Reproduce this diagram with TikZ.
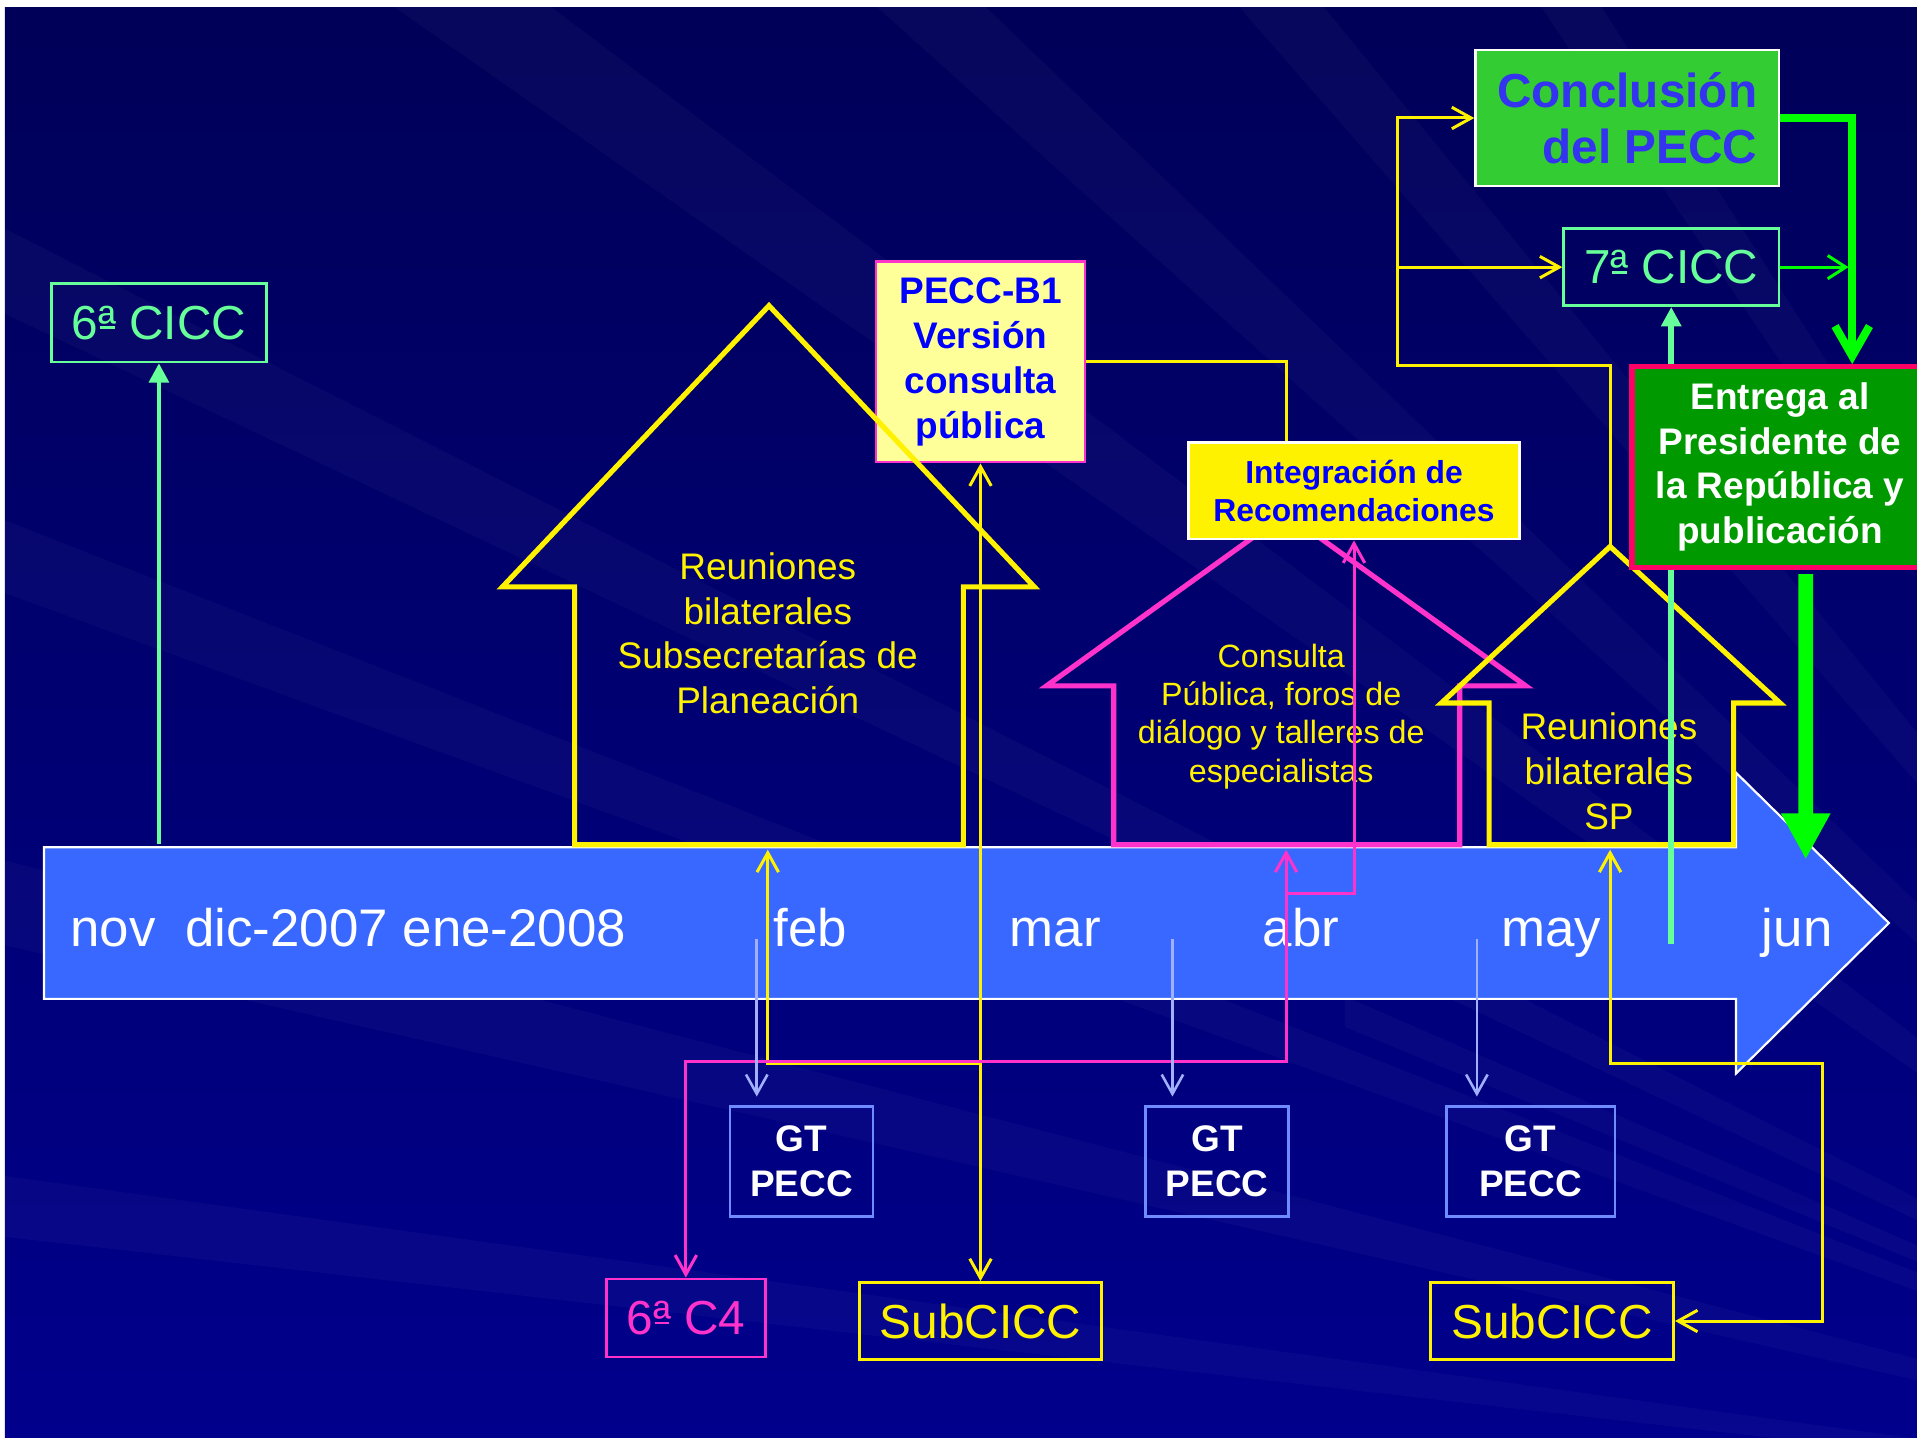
\documentclass[tikz,border=0pt]{standalone}
\usepackage{fontspec}
\setmainfont{Liberation Sans}
\usetikzlibrary{arrows.meta,calc}

\definecolor{bgtop}{RGB}{0,0,88}
\definecolor{bgbot}{RGB}{0,0,140}
\definecolor{tlblue}{RGB}{56,104,255}
\definecolor{lgreen}{RGB}{102,255,153}
\definecolor{pinkc}{RGB}{255,51,204}
\definecolor{lyellow}{RGB}{255,255,153}
\definecolor{cgreen}{RGB}{51,204,51}
\definecolor{dgreen}{RGB}{0,153,0}
\definecolor{crimson}{RGB}{255,0,102}
\definecolor{gtblue}{RGB}{110,140,255}
\definecolor{arblue}{RGB}{160,176,255}
\definecolor{txtblue}{RGB}{0,0,255}
\definecolor{ccblue}{RGB}{51,51,240}
\definecolor{bright}{RGB}{0,255,0}

% underlined ordinal a
\newcommand\ordbar{\makebox[0pt][l]{\hspace{0.03em}\rule[0.21em]{0.31em}{0.06em}}ª}

\tikzset{
  box/.style={draw, line width=0.6pt, inner sep=0pt, align=center},
  bigtxt/.style={font=\fontsize{11.1}{13.3}\selectfont},
  midtxt/.style={font=\fontsize{8.6}{10.4}\selectfont},
  midbold/.style={font=\fontsize{8.6}{10.4}\selectfont\bfseries},
  smalltxt/.style={font=\fontsize{7.5}{8.9}\selectfont},
  smallbold/.style={font=\fontsize{7.4}{8.8}\selectfont\bfseries},
  monthtxt/.style={font=\fontsize{12.3}{14}\selectfont, text=white, inner sep=0pt},
  house/.style={line width=1.2pt, line join=miter},
  ylink/.style={yellow, line width=0.7pt},
  plink/.style={pinkc, line width=0.7pt},
  lgarrow/.style={lgreen, line width=1.1pt, -{Triangle[length=4.5pt,width=4.5pt]}},
  gtarrow/.style={arblue, line width=0.6pt, shorten >=2pt, ->},
  gthin/.style={bright, line width=0.7pt, -{Straight Barb[length=4.2pt,width=5.4pt]}},
  gthick/.style={bright, line width=1.85pt, -{Straight Barb[length=7pt,width=8pt]}},
  gbig/.style={bright, line width=3.4pt, -{Triangle[length=10.7pt,width=10.7pt]}},
  streak/.style={fill=white, opacity=0.028}
}

\begin{document}
\begin{tikzpicture}[x=0.01cm, y=-0.01cm, >={Straight Barb[length=4.5pt,width=5pt]}]
  \useasboundingbox (0,0) rectangle (1568,1178);
  % background
  \fill[white] (0,0) rectangle (1568,1178);
  \shade[top color=bgtop, bottom color=bgbot] (4,6) rectangle (1568,1176);
  \begin{scope}
    \clip (4,6) rectangle (1568,1176);
    \fill[streak] (2100,1250) -- (-10,180) -- (-10,250) -- cycle;
    \fill[streak] (2100,1250) -- (-10,420) -- (-10,480) -- cycle;
    \fill[streak] (2100,1250) -- (-10,700) -- (-10,770) -- cycle;
    \fill[streak] (2100,1250) -- (-10,960) -- (-10,1010) -- cycle;
    \fill[streak] (2100,1250) -- (300,-10) -- (430,-10) -- cycle;
    \fill[streak] (2100,1250) -- (700,-10) -- (790,-10) -- cycle;
    \fill[streak] (2100,1250) -- (1000,-10) -- (1070,-10) -- cycle;
    \fill[streak] (2100,1250) -- (1250,-10) -- (1300,-10) -- cycle;
    \fill[streak] (2100,1250) -- (1100,815) -- (1100,840) -- cycle;
  \end{scope}
  % timeline
  \draw[white, line width=0.5pt, fill=tlblue] (36,693) -- (1420,693) -- (1420,632) -- (1545,755)
    -- (1420,878) -- (1420,817) -- (36,817) -- cycle;
  \node (m0) [monthtxt, anchor=base west] at (57,774) {nov\ \ dic-2007 ene-2008};
  \node (feb) [monthtxt, anchor=base] at (663,774) {feb};
  \node (mar) [monthtxt, anchor=base] at (863,774) {mar};
  \node (abr) [monthtxt, anchor=base] at (1064,774) {abr};
  \node (may) [monthtxt, anchor=base] at (1269,774) {may};
  \node (jun) [monthtxt, anchor=base] at (1470,774) {jun};
  % houses
  \node (pecc) [box, draw=pinkc, fill=lyellow, text=txtblue, midbold, minimum width=1.71cm, minimum height=1.64cm] at (802,296) {PECC-B1\\Versión\\consulta\\pública};
  \draw[house, yellow] (470,691) -- (470,480) -- (411,480) -- (629,250) -- (846,480) -- (788,480) -- (788,691) -- cycle;
  \node (reu1) [text=yellow, midtxt, align=center] at (628,518) {Reuniones\\bilaterales\\Subsecretarías de\\Planeación};
  \draw[house, pinkc] (911,691) -- (911,561) -- (856,561) -- (1052,420) -- (1248,561) -- (1194,561) -- (1194,691) -- cycle;
  \node (cons) [text=yellow, smalltxt, align=center] at (1048,586) {Consulta\\Pública, foros de\\diálogo y talleres de\\especialistas};
  \node (integ) [box, draw=white, fill=yellow, text=txtblue, smallbold, minimum width=2.71cm, minimum height=0.79cm] at (1107.5,401.5) {Integración de\\Recomendaciones};
  \draw[house, yellow] (1218,691) -- (1218,575) -- (1179,575) -- (1317,447) -- (1456,575) -- (1418,575) -- (1418,691) -- cycle;
  \node (reu2) [text=yellow, midtxt, align=center] at (1316,631) {Reuniones\\bilaterales\\SP};
  % nodes
  \node (cicc6) [box, draw=lgreen, text=lgreen, bigtxt, minimum width=1.76cm, minimum height=0.64cm] at (130,264) {6\ordbar{} CICC};
  \node (concl) [box, draw=white, fill=cgreen, text=ccblue, align=right, font=\fontsize{11.1}{13.1}\selectfont\bfseries, minimum width=2.48cm, minimum height=1.11cm] at (1331,96.5) {Conclusión\\del PECC};
  \node (cicc7) [box, draw=lgreen, text=lgreen, bigtxt, minimum width=1.76cm, minimum height=0.63cm] at (1367,218.5) {7\ordbar{} CICC};
  \node (gt1) [box, draw=gtblue, text=white, midbold, minimum width=1.17cm, minimum height=0.90cm] at (655.5,950) {GT\\PECC};
  \node (gt2) [box, draw=gtblue, text=white, midbold, minimum width=1.17cm, minimum height=0.90cm] at (995.5,950) {GT\\PECC};
  \node (gt3) [box, draw=gtblue, text=white, midbold, minimum width=1.38cm, minimum height=0.90cm] at (1252,950) {GT\\PECC};
  \node (c4) [box, draw=pinkc, text=pinkc, bigtxt, minimum width=1.30cm, minimum height=0.64cm] at (561,1078) {6\ordbar{} C4};
  \node (sub1) [box, draw=yellow, text=yellow, bigtxt, minimum width=1.98cm, minimum height=0.63cm] at (802,1080.5) {SubCICC};
  \node (sub2) [box, draw=yellow, text=yellow, bigtxt, minimum width=1.99cm, minimum height=0.63cm] at (1269.5,1080.5) {SubCICC};
  % arrows
  \coordinate (h1) at (628,695);
  \coordinate (h2) at (1052,695);
  \coordinate (h3) at (1317,695);
  \coordinate (top3) at (1317,447);
  \coordinate (g6) at (130,690);
  \draw[lgarrow] (g6) -- (cicc6);
  \draw[ylink] (pecc.east) -| ([xshift=-0.555cm]integ.north);
  \draw[ylink, <->] (pecc) -- (sub1);
  \coordinate (y1) at (802,870);
  \draw[ylink, ->] (y1) -| (h1);
  \coordinate (p1) at (1052,868);
  \draw[plink, <->] (c4) |- (p1) -- (h2);
  \coordinate (p2) at (1052,731);
  \draw[plink, ->] (p2) -| (integ);
  \coordinate (y2) at (1491,870);
  \draw[ylink, <->] (h3) |- (y2) |- (sub2);
  \coordinate (y3) at (1143,299);
  \draw[ylink, ->] (top3) |- (y3) |- (concl);
  \coordinate (y4) at (1143,218.5);
  \draw[ylink, ->] (y4) -- (cicc7);
  \coordinate (t1) at (619,768);
  \coordinate (t2) at (959,768);
  \coordinate (t3) at (1208,768);
  \draw[gtarrow] (t1) -- (t1 |- gt1.north);
  \draw[gtarrow] (t2) -- (t2 |- gt2.north);
  \draw[gtarrow] (t3) -- (t3 |- gt3.north);
  \coordinate (g7) at (1367,772);
  \draw[lgarrow, line width=1.3pt] (g7) -- (cicc7);
  \node (entrega) [box, draw=crimson, line width=1.2pt, fill=dgreen, text=white, midbold, minimum width=2.42cm, minimum height=1.64cm] at (1456,382) {Entrega al\\Presidente de\\la República y\\publicación};
  \draw[gthick] (concl.east) -| ([xshift=0.59cm]entrega.north);
  \coordinate (g9) at (1512,218.5);
  \draw[gthin] (cicc7) -- (g9);
  \coordinate (g8) at (1477,703);
  \draw[gbig, shorten <=1pt] ([xshift=0.21cm]entrega.south) -- (g8);
\end{tikzpicture}
\end{document}
